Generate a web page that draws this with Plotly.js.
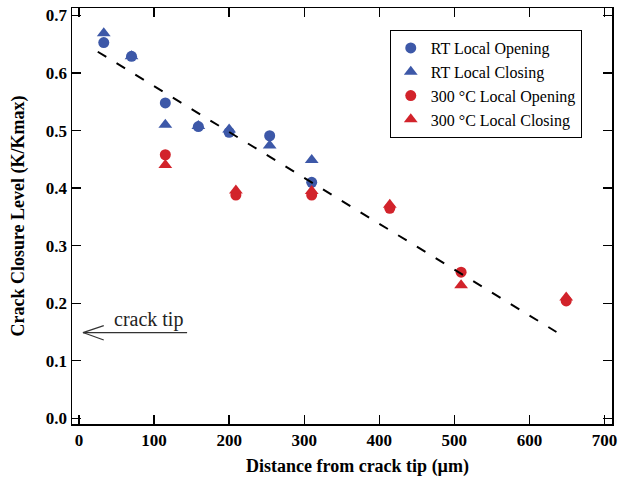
<!DOCTYPE html>
<html><head><meta charset="utf-8">
<script src="https://cdn.plot.ly/plotly-3.0.1.min.js"></script>
<style>html,body{margin:0;padding:0;background:#fff}#chart{width:620px;height:479px}</style>
</head><body><div id="chart"></div>
<script>
// Data
const rtOpenX  = [33, 70, 115, 159, 200, 254, 310];
const rtOpenY  = [0.653, 0.629, 0.548, 0.507, 0.497, 0.491, 0.410];
const rtCloseX = [33, 70, 115, 159, 200, 254, 310];
const rtCloseY = [0.669, 0.629, 0.510, 0.508, 0.502, 0.474, 0.449];
const htOpenX  = [115, 209, 310, 414, 509, 649];
const htOpenY  = [0.458, 0.388, 0.388, 0.365, 0.254, 0.204];
const htCloseX = [115, 209, 310, 414, 509, 649];
const htCloseY = [0.440, 0.396, 0.395, 0.371, 0.231, 0.210];
const fitX = [25, 636];
const fitY = [0.637, 0.150];
const xTicks = [0, 100, 200, 300, 400, 500, 600, 700];
const yTicks = [0, 0.1, 0.2, 0.3, 0.4, 0.5, 0.6, 0.7];

const blue = '#3d58a8', red = '#d2232b';
const serif = 'Liberation Serif, Times New Roman, serif';

const traces = [
  {x: rtOpenX, y: rtOpenY, name: 'RT Local Opening', mode: 'markers', type: 'scatter',
   marker: {symbol: 'circle', size: 11, color: blue}},
  {x: rtCloseX, y: rtCloseY, name: 'RT Local Closing', mode: 'markers', type: 'scatter',
   marker: {symbol: 'triangle-up', size: 12, color: blue}},
  {x: htOpenX, y: htOpenY, name: '300 °C Local Opening', mode: 'markers', type: 'scatter',
   marker: {symbol: 'circle', size: 11, color: red}},
  {x: htCloseX, y: htCloseY, name: '300 °C Local Closing', mode: 'markers', type: 'scatter',
   marker: {symbol: 'triangle-up', size: 12, color: red}},
  {x: fitX, y: fitY, mode: 'lines', type: 'scatter', showlegend: false,
   line: {color: '#000', width: 2, dash: '10px,12px'}, hoverinfo: 'skip'}
];

const axisCommon = {
  showline: true, linecolor: '#000', linewidth: 1.5, mirror: 'ticks',
  ticks: 'inside', ticklen: 9, tickwidth: 1.3, tickcolor: '#000',
  showgrid: false, zeroline: false,
  tickfont: {family: serif, size: 17, color: '#000', weight: 'bold'}
};

const layout = {
  width: 620, height: 479,
  margin: {l: 72, r: 8, t: 8, b: 55},
  paper_bgcolor: '#fff', plot_bgcolor: '#fff',
  font: {family: serif, color: '#000'},
  xaxis: Object.assign({}, axisCommon, {
    range: [-9.3, 710], tickvals: xTicks
  }),
  yaxis: Object.assign({}, axisCommon, {
    range: [-0.0099, 0.713], tickvals: yTicks, tickformat: '.1f',
    title: {text: '<b>Crack Closure Level (K/Kmax)</b>', font: {family: serif, size: 18, color: '#000'}, standoff: 16}
  }),
  legend: {
    x: 0.944, y: 0.947, xanchor: 'right', yanchor: 'top',
    bgcolor: '#fff', bordercolor: '#000', borderwidth: 1,
    font: {family: serif, size: 16, color: '#000'},
    tracegroupgap: 0, itemwidth: 30
  },
  shapes: [
    {type: 'line', xref: 'x', yref: 'y', x0: 5.3, y0: 0.149, x1: 144, y1: 0.149, line: {color: '#333', width: 1.2}},
    {type: 'line', xref: 'x', yref: 'y', x0: 5.3, y0: 0.149, x1: 33, y1: 0.161, line: {color: '#333', width: 1.2}},
    {type: 'line', xref: 'x', yref: 'y', x0: 5.3, y0: 0.149, x1: 33, y1: 0.136, line: {color: '#333', width: 1.2}}
  ],
  annotations: [
    {x: 92, y: 0.1725, xref: 'x', yref: 'y', text: 'crack tip', showarrow: false,
     font: {family: serif, size: 20, color: '#222'}},
    {x: 0.528, y: (424 - 466) / 416, xref: 'paper', yref: 'paper', text: '<b>Distance from crack tip (µm)</b>', showarrow: false,
     yanchor: 'middle', font: {family: serif, size: 18, color: '#000'}}
  ]
};

Plotly.newPlot('chart', traces, layout, {displayModeBar: false, staticPlot: true});
</script>
</body></html>
